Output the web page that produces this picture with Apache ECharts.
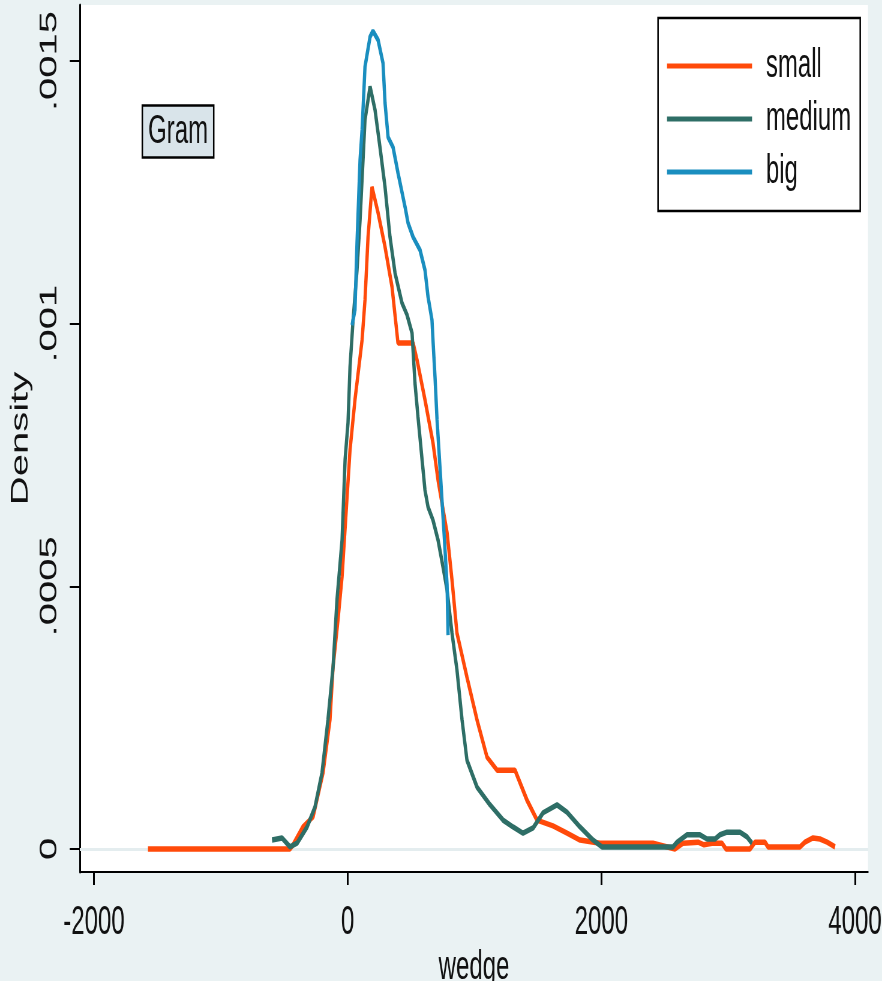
<!DOCTYPE html>
<html>
<head>
<meta charset="utf-8">
<script src="https://cdn.jsdelivr.net/npm/echarts@6.0.0/dist/echarts.min.js"></script>
<style>
html, body { margin: 0; padding: 0; overflow: hidden; background: #eaf2f3; width: 882px; height: 981px; }
#chart { width: 1470px; height: 981px; transform: scaleX(0.6); transform-origin: 0 0; }
</style>
</head>
<body>
<div id="chart"></div>
<script>
// ---- data ----
const seriesNames = ['small', 'medium', 'big'];

const smallData = [
  [-1574, 0], [-454, 0], [-430, 0.000008], [-352, 0.000042], [-273, 0.000061],
  [-194, 0.000145], [-139, 0.000246], [-115, 0.000346], [-76, 0.000436], [-44, 0.000518],
  [19, 0.00076], [58, 0.000855], [114, 0.000969], [137, 0.001045], [161, 0.001165],
  [192, 0.00126], [240, 0.001211], [295, 0.001146], [350, 0.00107], [397, 0.000963],
  [516, 0.000963], [547, 0.000931], [610, 0.000855], [673, 0.000773], [713, 0.000702],
  [784, 0.000602], [823, 0.000512], [862, 0.000411], [941, 0.000327], [1020, 0.000246],
  [1099, 0.000175], [1178, 0.00015], [1320, 0.00015], [1414, 0.000093], [1493, 0.000055],
  [1619, 0.000044], [1730, 0.00003], [1832, 0.000017], [1990, 0.000011], [2408, 0.000011],
  [2581, 0], [2644, 0.000011], [2763, 0.000013], [2810, 0.000008], [2873, 0.000011],
  [2952, 0.000011], [2983, 0], [3172, 0], [3212, 0.000013], [3291, 0.000013],
  [3314, 0.000004], [3567, 0.000004], [3606, 0.000013], [3669, 0.000021], [3724, 0.000019],
  [3780, 0.000013], [3843, 0.000004]
];

const mediumData = [
  [-596, 0.000017], [-517, 0.000021], [-454, 0.000004], [-399, 0.000011], [-320, 0.000042],
  [-257, 0.00008], [-202, 0.000145], [-155, 0.000246], [-115, 0.000346], [-84, 0.000474],
  [-44, 0.000588], [-20, 0.000741], [3, 0.000811], [19, 0.000918], [43, 0.001007],
  [74, 0.001102], [98, 0.001197], [137, 0.001388], [177, 0.001451], [216, 0.001407],
  [255, 0.001336], [295, 0.00126], [334, 0.001165], [374, 0.001096], [429, 0.001039],
  [468, 0.001017], [508, 0.000982], [531, 0.000887], [555, 0.000822], [587, 0.000741],
  [610, 0.000683], [634, 0.000651], [673, 0.000626], [713, 0.000588], [752, 0.000537],
  [784, 0.000493], [823, 0.000411], [862, 0.000341], [902, 0.000246], [941, 0.000169],
  [1020, 0.000118], [1123, 0.000084], [1225, 0.000055], [1304, 0.000042], [1383, 0.00003],
  [1462, 0.00004], [1541, 0.000069], [1651, 0.000084], [1730, 0.00007], [1832, 0.000042],
  [1935, 0.000017], [2006, 0.000004], [2565, 0.000004], [2597, 0.000013], [2676, 0.000027],
  [2778, 0.000027], [2834, 0.000019], [2897, 0.000019], [2936, 0.000027], [2991, 0.000032],
  [3094, 0.000032], [3149, 0.000023], [3188, 0.000011]
];

const bigData = [
  [35, 0.000997], [58, 0.001026], [74, 0.001154], [98, 0.001312], [114, 0.001369],
  [137, 0.001489], [177, 0.001546], [200, 0.001557], [240, 0.00154], [279, 0.001496],
  [295, 0.00142], [319, 0.001355], [358, 0.001336], [397, 0.001287], [453, 0.001222],
  [476, 0.001192], [516, 0.001165], [571, 0.00114], [610, 0.001102], [634, 0.001051],
  [665, 0.001007], [673, 0.000969], [689, 0.000898], [705, 0.000817], [728, 0.000727],
  [744, 0.000664], [760, 0.000602], [784, 0.000503], [792, 0.000407]
];

const xTicks = [-2000, 0, 2000, 4000];
const xTickLabels = ['-2000', '0', '2000', '4000'];
const yTicks = [0, 0.0005, 0.001, 0.0015];
const yTickLabels = ['0', '.0005', '.001', '.0015'];

// ---- styles ----
const FONT = '"Liberation Sans", Arial, sans-serif';
const TXT = '#111111';
const colors = { small: '#ff4a0a', medium: '#2e6e66', big: '#1a8ebf' };

function labelFor(ticks, labels, v) {
  let best = 0;
  for (let i = 1; i < ticks.length; i++) {
    if (Math.abs(ticks[i] - v) < Math.abs(ticks[best] - v)) best = i;
  }
  return labels[best];
}

const chart = echarts.init(document.getElementById('chart'), null, { renderer: 'canvas' });

function lineSeries(name, data, z) {
  return {
    name: name, type: 'line', data: data, showSymbol: false, symbol: 'none',
    lineStyle: { color: colors[name], width: 5.5 },
    itemStyle: { color: colors[name] },
    z: z, animation: false
  };
}

chart.setOption({
  animation: false,
  backgroundColor: '#eaf2f3',
  title: {
    text: 'Gram', left: 236.7, top: 105,
    padding: [6, 10, 6, 10],
    backgroundColor: '#d9e4ea', borderColor: '#000', borderWidth: 2.5,
    textStyle: { fontSize: 40, lineHeight: 41, fontWeight: 'normal', color: TXT, fontFamily: FONT }
  },
  legend: {
    data: seriesNames, orient: 'vertical', left: 1096.7, top: 18,
    icon: 'rect', itemWidth: 141.7, itemHeight: 5, itemGap: 13,
    padding: [28, 15, 19, 15],
    backgroundColor: '#ffffff', borderColor: '#000', borderWidth: 2.5,
    selectedMode: false,
    textStyle: { fontSize: 40, lineHeight: 40, color: TXT, fontFamily: FONT, padding: [0, 0, 0, 18] }
  },
  grid: {
    left: 133.3, right: 23.3, top: 5, bottom: 109,
    show: true, backgroundColor: '#ffffff', borderWidth: 0,
    containLabel: false, outerBoundsMode: 'none'
  },
  xAxis: {
    type: 'value', min: -2110, max: 4103,
    axisLine: { show: true, onZero: false, lineStyle: { color: '#000', width: 2 } },
    axisTick: { show: true, length: 13, customValues: xTicks, lineStyle: { color: '#000', width: 3 } },
    axisLabel: {
      show: true, customValues: xTicks, margin: 31, fontSize: 40, color: TXT, fontFamily: FONT,
      formatter: v => labelFor(xTicks, xTickLabels, v)
    },
    splitLine: { show: false },
    name: 'wedge', nameLocation: 'middle', nameGap: 60,
    nameTextStyle: { fontSize: 40, color: TXT, fontFamily: FONT }
  },
  yAxis: {
    type: 'value', min: -0.0000438, max: 0.0016066,
    axisLine: { show: true, onZero: false, lineStyle: { color: '#000', width: 3 } },
    axisTick: { show: true, length: 17, customValues: yTicks, lineStyle: { color: '#000', width: 2 } },
    axisLabel: {
      show: true, customValues: yTicks, rotate: 90, margin: 30, fontSize: 40, color: TXT, fontFamily: FONT,
      formatter: v => labelFor(yTicks, yTickLabels, v)
    },
    splitLine: { show: false },
    name: 'Density', nameLocation: 'middle', nameGap: 64, nameRotate: 90,
    nameTextStyle: { fontSize: 40, color: TXT, fontFamily: FONT }
  },
  series: [
    {
      name: 'grid', type: 'line', data: [], z: 1, silent: true,
      markLine: {
        silent: true, z: 1, symbol: ['none', 'none'], animation: false,
        label: { show: false },
        lineStyle: { color: '#e4edef', width: 3, type: 'solid' },
        emphasis: { disabled: true },
        data: yTicks.map(v => ({ yAxis: v }))
      }
    },
    lineSeries('small', smallData, 3),
    lineSeries('medium', mediumData, 4),
    lineSeries('big', bigData, 5)
  ]
});
</script>
</body>
</html>
